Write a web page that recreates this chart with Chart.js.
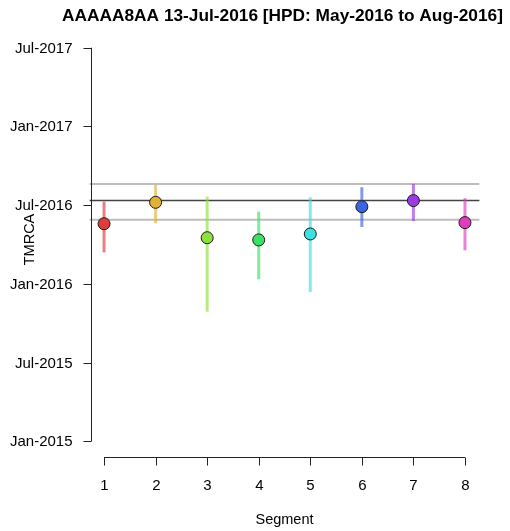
<!DOCTYPE html>
<html>
<head>
<meta charset="utf-8">
<script src="https://cdn.jsdelivr.net/npm/chart.js@4"></script>
<style>
  html, body { margin: 0; padding: 0; background: #fff; }
  #wrap { width: 510px; height: 531px; }
</style>
</head>
<body>
<div id="wrap"><canvas id="tmrca-chart" width="510" height="531"></canvas></div>
<script>
// dates as decimal years
const segments = [1, 2, 3, 4, 5, 6, 7, 8];
const tmrca = [2016.382, 2016.518, 2016.293, 2016.279, 2016.317, 2016.490, 2016.529, 2016.389];
const lower = [2016.200, 2016.385, 2015.823, 2016.029, 2015.948, 2016.361, 2016.399, 2016.213];
const upper = [2016.522, 2016.628, 2016.554, 2016.459, 2016.550, 2016.614, 2016.635, 2016.544];
const pointColors = ['#e03c3c', '#e0b23c', '#8ee03c', '#3ce066', '#3ce0e0', '#3c66e0', '#9a3ce0', '#e03cbe'];
const overall = 2016.530;   // 13-Jul-2016
const hpdLow = 2016.408;    // May-2016
const hpdHigh = 2016.635;   // Aug-2016
const yTickValues = [2015.0, 2015.5, 2016.0, 2016.5, 2017.0, 2017.5];
const yTickLabels = ['Jan-2015', 'Jul-2015', 'Jan-2016', 'Jul-2016', 'Jan-2017', 'Jul-2017'];
const titleText = 'AAAAA8AA 13-Jul-2016 [HPD: May-2016 to Aug-2016]';

const font = '"Liberation Sans", Arial, sans-serif';

function hexA(hex, a) {
  const n = parseInt(hex.slice(1), 16);
  return 'rgba(' + (n >> 16) + ',' + ((n >> 8) & 255) + ',' + (n & 255) + ',' + a + ')';
}

const rPlot = {
  id: 'rPlot',
  beforeDatasetsDraw(chart) {
    const ctx = chart.ctx;
    const x = chart.scales.x, y = chart.scales.y;
    const area = chart.chartArea;
    ctx.save();
    // HPD lines
    ctx.strokeStyle = '#bdbdbd';
    ctx.lineWidth = 2;
    [hpdLow, hpdHigh].forEach(v => {
      const py = y.getPixelForValue(v);
      ctx.beginPath(); ctx.moveTo(area.left, py); ctx.lineTo(area.right, py); ctx.stroke();
    });
    ctx.strokeStyle = '#444';
    ctx.lineWidth = 1.5;
    const py = y.getPixelForValue(overall);
    ctx.beginPath(); ctx.moveTo(area.left, py); ctx.lineTo(area.right, py); ctx.stroke();
    // error bars
    ctx.lineWidth = 3;
    segments.forEach((s, i) => {
      const px = x.getPixelForValue(s);
      ctx.strokeStyle = hexA(pointColors[i], 0.65);
      ctx.beginPath();
      ctx.moveTo(px, y.getPixelForValue(lower[i]));
      ctx.lineTo(px, y.getPixelForValue(upper[i]));
      ctx.stroke();
    });
    ctx.restore();
  },
  afterDraw(chart) {
    const ctx = chart.ctx;
    const x = chart.scales.x, y = chart.scales.y;
    const area = chart.chartArea;
    ctx.save();
    ctx.strokeStyle = '#222';
    ctx.fillStyle = '#000';
    ctx.lineWidth = 1;
    // y axis
    const ax = Math.round(area.left) + 1.5;
    const y0 = y.getPixelForValue(yTickValues[0]);
    const y1 = y.getPixelForValue(yTickValues[yTickValues.length - 1]);
    ctx.beginPath(); ctx.moveTo(ax, y0); ctx.lineTo(ax, y1); ctx.stroke();
    ctx.font = '15px ' + font;
    ctx.textAlign = 'right';
    ctx.textBaseline = 'middle';
    yTickValues.forEach((v, i) => {
      const py = Math.round(y.getPixelForValue(v)) + 0.5;
      ctx.beginPath(); ctx.moveTo(ax, py); ctx.lineTo(ax - 8, py); ctx.stroke();
      ctx.fillText(yTickLabels[i], ax - 19, py);
    });
    // x axis
    const ay = Math.round(area.bottom) + 0.5;
    const x0 = x.getPixelForValue(segments[0]);
    const x1 = x.getPixelForValue(segments[segments.length - 1]);
    ctx.beginPath(); ctx.moveTo(x0, ay); ctx.lineTo(x1, ay); ctx.stroke();
    ctx.textAlign = 'center';
    segments.forEach(s => {
      const px = Math.round(x.getPixelForValue(s)) + 0.5;
      ctx.beginPath(); ctx.moveTo(px, ay); ctx.lineTo(px, ay + 8); ctx.stroke();
      ctx.fillText(String(s), px, ay + 28);
    });
    ctx.font = '14.5px ' + font;
    const cx = (area.left + area.right) / 2;
    ctx.fillText('Segment', cx, ay + 62);
    ctx.save();
    ctx.translate(30, (area.top + area.bottom) / 2 - 5);
    ctx.rotate(-Math.PI / 2);
    ctx.fillText('TMRCA', 0, 0);
    ctx.restore();
    // title
    ctx.font = 'bold 17.3px ' + font;
    ctx.fillText(titleText, cx - 2, 16);
    ctx.restore();
  }
};

new Chart(document.getElementById('tmrca-chart').getContext('2d'), {
  type: 'scatter',
  data: {
    datasets: [{
      data: segments.map((s, i) => ({ x: s, y: tmrca[i] })),
      backgroundColor: pointColors,
      borderColor: '#1a1a1a',
      borderWidth: 1,
      pointRadius: 6,
      pointHoverRadius: 6
    }]
  },
  options: {
    responsive: false,
    animation: false,
    layout: { padding: { left: 89.6, right: 30.6, top: 32, bottom: 74 } },
    plugins: { legend: { display: false }, tooltip: { enabled: false } },
    scales: {
      x: { type: 'linear', display: false, min: 0.72, max: 8.28 },
      y: { type: 'linear', display: false, min: 2014.9, max: 2017.6 }
    }
  },
  plugins: [rPlot]
});
</script>
</body>
</html>
